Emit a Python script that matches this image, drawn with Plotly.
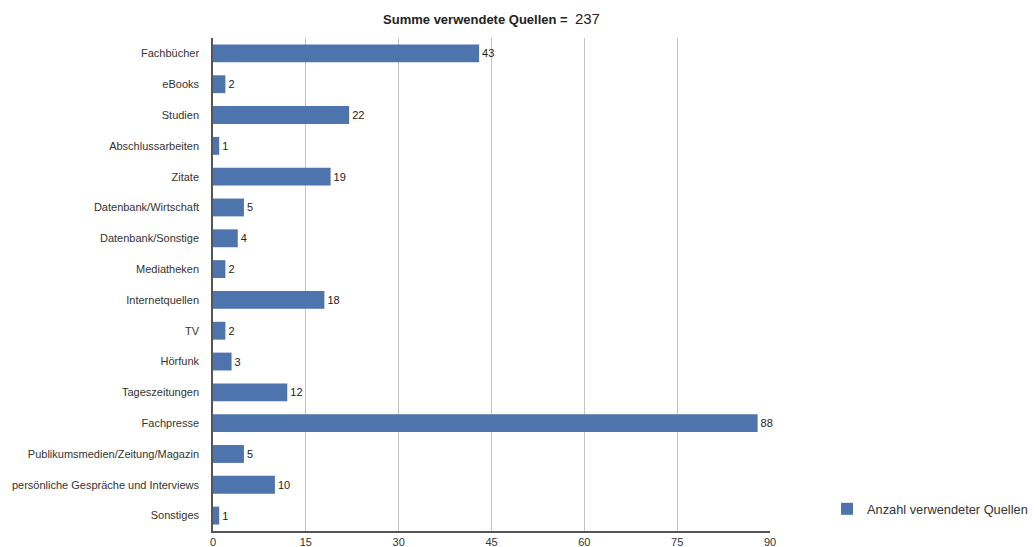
import plotly.graph_objects as go

categories = ["Fachbücher", "eBooks", "Studien", "Abschlussarbeiten", "Zitate",
              "Datenbank/Wirtschaft", "Datenbank/Sonstige", "Mediatheken", "Internetquellen",
              "TV", "Hörfunk", "Tageszeitungen", "Fachpresse",
              "Publikumsmedien/Zeitung/Magazin", "persönliche Gespräche und Interviews", "Sonstiges"]
values = [43, 2, 22, 1, 19, 5, 4, 2, 18, 2, 3, 12, 88, 5, 10, 1]
series_name = "Anzahl verwendeter Quellen"
x_ticks = [0, 15, 30, 45, 60, 75, 90]

FONT = "Liberation Sans, Arial, Helvetica, sans-serif"

fig = go.Figure()
fig.add_trace(go.Bar(
    y=categories, x=values, orientation="h", name=series_name,
    marker=dict(color="#4e74ae", line=dict(width=0)),
    text=[str(v) for v in values], textposition="outside",
    textfont=dict(family=FONT, size=11, color="#222222"),
    cliponaxis=False, width=0.58,
))

fig.update_layout(
    width=1034, height=547,
    margin=dict(l=213, r=264, t=38, b=16, autoexpand=False),
    paper_bgcolor="white", plot_bgcolor="white",
    font=dict(family=FONT, size=11, color="#333333"),
    title=dict(text="<b>Summe verwendete Quellen =</b>  <span style='font-size:15px'>237</span>",
               x=(213 + 770) / 2 / 1034, xanchor="center", y=1 - 19 / 547, yanchor="middle",
               font=dict(family=FONT, size=13, color="#222222")),
    showlegend=True,
    legend=dict(x=(827 - 213) / (770 - 213), y=(531 - 509) / 493, xanchor="left", yanchor="middle",
                font=dict(family=FONT, size=12.8, color="#333333"),
                bgcolor="rgba(0,0,0,0)"),
)

fig.update_xaxes(range=[0, 90], tickvals=x_ticks, ticktext=[str(t) for t in x_ticks],
                 showgrid=True, gridcolor="#c4c4c4", gridwidth=1,
                 showline=True, linecolor="#555555", linewidth=1.5,
                 zeroline=False, ticks="", tickfont=dict(size=11, color="#333333"))
fig.update_yaxes(autorange="reversed", showline=True, linecolor="#555555", linewidth=1.5,
                 showgrid=False, ticks="", ticklabelstandoff=10,
                 tickfont=dict(size=11, color="#333333"))

fig.write_html("out.html")
